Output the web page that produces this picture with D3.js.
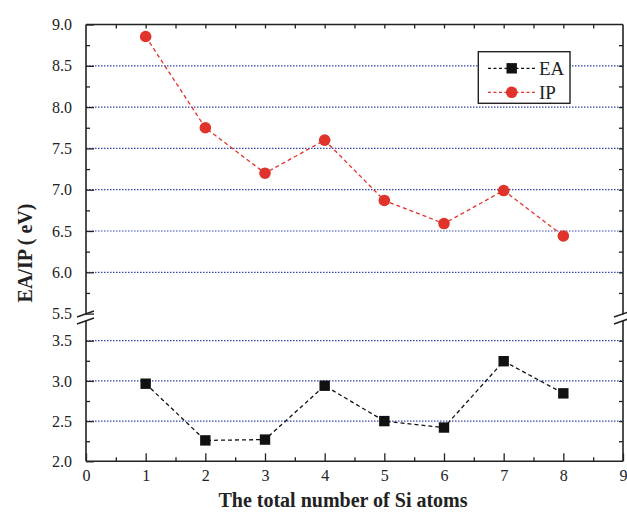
<!DOCTYPE html>
<html lang="en">
<head>
<meta charset="UTF-8">
<title>EA/IP of Si clusters</title>
<script src="https://d3js.org/d3.v7.min.js"></script>
<style>
  body { margin: 0; background: #fff; }
  text { font-family: "Liberation Serif", "Times New Roman", serif; }
</style>
</head>
<body>
<div id="chart"></div>
<script>
// data
var atoms = [1, 2, 3, 4, 5, 6, 7, 8];
var ipValues = [8.855, 7.75, 7.20, 7.60, 6.87, 6.59, 6.99, 6.44];
var eaValues = [2.965, 2.26, 2.27, 2.94, 2.50, 2.42, 3.245, 2.845];
var xTicks = [0, 1, 2, 3, 4, 5, 6, 7, 8, 9];
var upperTicks = [5.5, 6.0, 6.5, 7.0, 7.5, 8.0, 8.5, 9.0];
var lowerTicks = [2.0, 2.5, 3.0, 3.5];
var upperGrid = [6.0, 6.5, 7.0, 7.5, 8.0, 8.5];
var lowerGrid = [2.5, 3.0, 3.5];

var W = 627, H = 512;
var pLeft = 86, pRight = 623, pTop = 24.5, pBottom = 461.3;
var upBot = 313.6, lowTop = 320.5;

var svg = d3.select("#chart").append("svg")
  .attr("width", W).attr("height", H);

var x = d3.scaleLinear().domain([0, 9]).range([pLeft, pRight]);
var yUp = d3.scaleLinear().domain([5.5, 9.0]).range([upBot, pTop]);
var yLow = d3.scaleLinear().domain([2.0, 3.5]).range([pBottom, 340.7]);

// gridlines
var grid = svg.append("g")
  .attr("stroke", "#3546a8").attr("stroke-width", 1.2)
  .attr("stroke-dasharray", "1.5,1.5");
grid.selectAll(".gu").data(upperGrid).enter().append("line")
  .attr("x1", pLeft).attr("x2", pRight)
  .attr("y1", function(d) { return yUp(d); })
  .attr("y2", function(d) { return yUp(d); });
grid.selectAll(".gl").data(lowerGrid).enter().append("line")
  .attr("x1", pLeft).attr("x2", pRight)
  .attr("y1", function(d) { return yLow(d); })
  .attr("y2", function(d) { return yLow(d); });

function styleAxis(g) {
  g.attr("font-family", "Liberation Serif").attr("font-size", 16);
  g.select(".domain").remove();
  g.selectAll("line").attr("stroke", "#222").attr("stroke-width", 1.3);
  g.selectAll("text").attr("fill", "#222");
}

// left axis, upper part
svg.append("g").attr("transform", "translate(" + pLeft + ",0)")
  .call(d3.axisLeft(yUp).tickValues(upperTicks).tickSize(-8).tickPadding(14)
    .tickFormat(d3.format(".1f")))
  .call(styleAxis);
svg.append("g").attr("transform", "translate(" + pLeft + ",0)")
  .call(d3.axisLeft(yUp).tickValues([5.75, 6.25, 6.75, 7.25, 7.75, 8.25, 8.75])
    .tickSize(-4).tickFormat(""))
  .call(styleAxis);
// left axis, lower part
svg.append("g").attr("transform", "translate(" + pLeft + ",0)")
  .call(d3.axisLeft(yLow).tickValues(lowerTicks).tickSize(-8).tickPadding(14)
    .tickFormat(d3.format(".1f")))
  .call(styleAxis);
svg.append("g").attr("transform", "translate(" + pLeft + ",0)")
  .call(d3.axisLeft(yLow).tickValues([2.25, 2.75, 3.25]).tickSize(-4).tickFormat(""))
  .call(styleAxis);

// right axis ticks
svg.append("g").attr("transform", "translate(" + pRight + ",0)")
  .call(d3.axisRight(yUp).tickValues(d3.range(5.75, 9, 0.25)).tickSize(-4).tickFormat(""))
  .call(styleAxis);
svg.append("g").attr("transform", "translate(" + pRight + ",0)")
  .call(d3.axisRight(yLow).tickValues([2.25, 2.5, 2.75, 3.0, 3.25, 3.5]).tickSize(-4).tickFormat(""))
  .call(styleAxis);

// bottom axis
svg.append("g").attr("transform", "translate(0," + pBottom + ")")
  .call(d3.axisBottom(x).tickValues(xTicks).tickSize(-8).tickPadding(8))
  .call(styleAxis);
svg.append("g").attr("transform", "translate(0," + pBottom + ")")
  .call(d3.axisBottom(x).tickValues(d3.range(0.5, 9, 1)).tickSize(-4).tickFormat(""))
  .call(styleAxis);
// top axis
svg.append("g").attr("transform", "translate(0," + pTop + ")")
  .call(d3.axisTop(x).tickValues(d3.range(0.5, 9, 0.5)).tickSize(-4).tickFormat(""))
  .call(styleAxis);

// frame
var frame = svg.append("g").attr("stroke", "#222").attr("stroke-width", 1.6).attr("fill", "none");
frame.append("line").attr("x1", pLeft).attr("x2", pRight).attr("y1", pTop).attr("y2", pTop);
frame.append("line").attr("x1", pLeft).attr("x2", pRight).attr("y1", pBottom).attr("y2", pBottom);
[pLeft, pRight].forEach(function(xx) {
  frame.append("line").attr("x1", xx).attr("x2", xx).attr("y1", pTop).attr("y2", upBot + 1);
  frame.append("line").attr("x1", xx).attr("x2", xx).attr("y1", lowTop).attr("y2", pBottom);
  // break marks
  frame.append("line").attr("x1", xx - 9).attr("y1", upBot + 3.5).attr("x2", xx + 8).attr("y2", upBot - 2.5);
  frame.append("line").attr("x1", xx - 9).attr("y1", lowTop + 3.5).attr("x2", xx + 8).attr("y2", lowTop - 2.5);
});

// series
var ipLine = d3.line().x(function(d, i) { return x(atoms[i]); }).y(function(d) { return yUp(d); });
var eaLine = d3.line().x(function(d, i) { return x(atoms[i]); }).y(function(d) { return yLow(d); });

svg.append("path").datum(ipValues).attr("d", ipLine)
  .attr("fill", "none").attr("stroke", "#e0332b").attr("stroke-width", 1.3)
  .attr("stroke-dasharray", "4,3");
svg.append("path").datum(eaValues).attr("d", eaLine)
  .attr("fill", "none").attr("stroke", "#111").attr("stroke-width", 1.3)
  .attr("stroke-dasharray", "4,3");

svg.selectAll(".ip").data(ipValues).enter().append("circle")
  .attr("cx", function(d, i) { return x(atoms[i]); })
  .attr("cy", function(d) { return yUp(d); })
  .attr("r", 5.8).attr("fill", "#e0332b");
svg.selectAll(".ea").data(eaValues).enter().append("rect")
  .attr("x", function(d, i) { return x(atoms[i]) - 5.2; })
  .attr("y", function(d) { return yLow(d) - 5.2; })
  .attr("width", 10.4).attr("height", 10.4).attr("fill", "#111");

// legend
var lg = svg.append("g");
lg.append("rect").attr("x", 478.3).attr("y", 51.7).attr("width", 91.7).attr("height", 51.6)
  .attr("fill", "#fff").attr("stroke", "#222").attr("stroke-width", 1.4);
var legendItems = [
  { name: "EA", color: "#111", shape: "square", y: 68.3 },
  { name: "IP", color: "#e0332b", shape: "circle", y: 92.3 }
];
legendItems.forEach(function(it) {
  lg.append("line").attr("x1", 488).attr("x2", 535).attr("y1", it.y).attr("y2", it.y)
    .attr("stroke", it.color).attr("stroke-width", 1.3).attr("stroke-dasharray", "3,2.5");
  if (it.shape === "square") {
    lg.append("rect").attr("x", 511.7 - 5.2).attr("y", it.y - 5.2).attr("width", 10.4).attr("height", 10.4).attr("fill", it.color);
  } else {
    lg.append("circle").attr("cx", 511.7).attr("cy", it.y).attr("r", 5.8).attr("fill", it.color);
  }
  lg.append("text").attr("x", 539).attr("y", it.y + 6.5).attr("font-size", 19).attr("fill", "#222").text(it.name);
});

// axis titles
svg.append("text").attr("x", 343).attr("y", 507)
  .attr("text-anchor", "middle").attr("font-size", 20).attr("font-weight", "bold").attr("fill", "#222")
  .text("The total number of Si atoms");
svg.append("text").attr("transform", "translate(32,253) rotate(-90)")
  .attr("text-anchor", "middle").attr("font-size", 20).attr("font-weight", "bold").attr("fill", "#222")
  .text("EA/IP ( eV)");
</script>
</body>
</html>
